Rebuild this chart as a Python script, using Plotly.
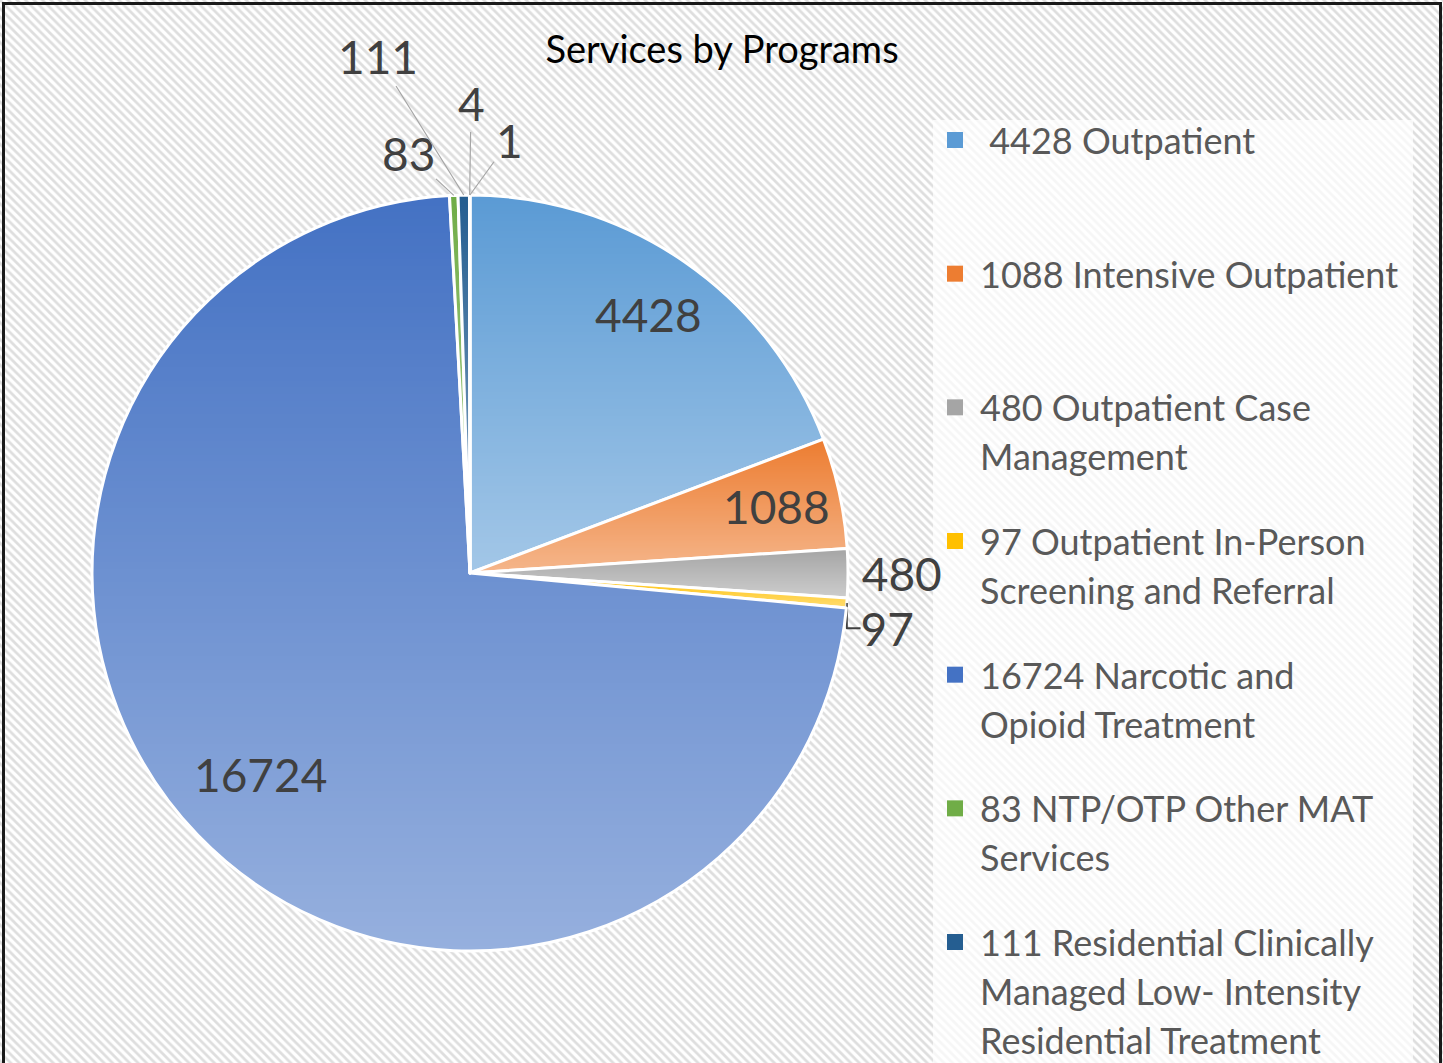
import base64
import struct
import zlib

import numpy as np
import plotly.graph_objects as go

W, H = 1443, 1063

# ---------------- data ----------------
programs = [
    "Outpatient",
    "Intensive Outpatient",
    "Outpatient Case Management",
    "Outpatient In-Person Screening and Referral",
    "Narcotic and Opioid Treatment",
    "NTP/OTP Other MAT Services",
    "Residential Clinically Managed Low- Intensity Residential Treatment",
    "Other program A",
    "Other program B",
]
services = [4428, 1088, 480, 97, 16724, 83, 111, 4, 1]
# legend wording with line breaks, as wrapped in the reference
legend_wrapped = [
    "\u00a04428 Outpatient",
    "1088 Intensive Outpatient",
    "480 Outpatient Case|Management",
    "97 Outpatient In-Person|Screening and Referral",
    "16724 Narcotic and|Opioid Treatment",
    "83 NTP/OTP Other MAT|Services",
    "111 Residential Clinically|Managed Low- Intensity|Residential Treatment",
]
slice_colors = ["#5B9BD5", "#ED7D31", "#A5A5A5", "#FFC000", "#4472C4",
                "#70AD47", "#255E91", "#9E480E", "#636363"]
# how each data label is shown: native outside label, inside label at a
# radius fraction, or a dragged-out callout label (pixel position)
native_outside = [2, 3]
inside_labels = {0: 0.83, 1: 0.83, 4: 0.77}
callout_labels = {5: (408, 153), 6: (378, 57), 7: (471, 103), 8: (509, 141)}

FONT = "Lato"
LABEL_COLOR = "#404040"

# ---------------- geometry (pixels) ----------------
CX, CY, R = 470, 573, 378
px = lambda x: x / W
py = lambda y: 1 - y / H


def png_rgba(arr):
    h, w, _ = arr.shape
    raw = b"".join(b"\x00" + arr[r].tobytes() for r in range(h))

    def chunk(tag, data):
        c = struct.pack(">I", len(data)) + tag + data
        return c + struct.pack(">I", zlib.crc32(tag + data) & 0xFFFFFFFF)

    return (b"\x89PNG\r\n\x1a\n"
            + chunk(b"IHDR", struct.pack(">IIBBBBB", w, h, 8, 6, 0, 0, 0))
            + chunk(b"IDAT", zlib.compress(raw, 9))
            + chunk(b"IEND", b""))


def gradient_overlay(values, size, tmax):
    """White tint that grows downward within each slice's bounding box."""
    n = size
    yy, xx = np.mgrid[0:n, 0:n].astype(float) + 0.5
    c = n / 2
    dx, dy = xx - c, yy - c
    rr = np.hypot(dx, dy)
    ang = np.degrees(np.arctan2(dx, -dy)) % 360
    edges = np.cumsum(values) / np.sum(values) * 360
    idx = np.clip(np.searchsorted(edges, ang, side="right"), 0, len(values) - 1)
    inside = rr <= c + 1
    t = np.zeros_like(rr)
    for i in range(len(values)):
        m = inside & (idx == i)
        if m.any():
            y0, y1 = yy[m].min(), yy[m].max()
            t[m] = tmax * (yy[m] - y0) / max(y1 - y0, 1.0)
    cov = np.clip(c - rr + 0.5, 0, 1)
    alpha = np.clip(t * cov, 0, 1)
    arr = np.zeros((n, n, 4), dtype=np.uint8)
    arr[..., :3] = 255
    arr[..., 3] = (alpha * 255).round().astype(np.uint8)
    return "data:image/png;base64," + base64.b64encode(png_rgba(arr)).decode()


# slice mid angles (clockwise from 12 o'clock), derived from the data
total = float(sum(services))
cum = np.concatenate([[0.0], np.cumsum(services)]) / total * 360.0
mid_angles = (cum[:-1] + cum[1:]) / 2.0


def polar_px(theta_deg, radius):
    th = np.radians(theta_deg)
    return CX + radius * np.sin(th), CY - radius * np.cos(th)


fig = go.Figure()

# hatched chart background
fig.add_trace(go.Scatter(
    x=[0, 1, 1, 0, 0], y=[0, 0, 1, 1, 0], mode="lines", fill="toself",
    line=dict(width=0), fillcolor="white",
    fillpattern=dict(shape="\\", size=6, solidity=0.45, fgcolor="#dedede",
                     bgcolor="white", fillmode="replace"),
    hoverinfo="skip", showlegend=False,
))
# legend panel (semi-opaque white over the hatch)
lx0, lx1, ly0 = px(933), px(1413), py(120)
fig.add_trace(go.Scatter(
    x=[lx0, lx1, lx1, lx0, lx0], y=[-0.05, -0.05, ly0, ly0, -0.05],
    mode="lines", fill="toself", line=dict(width=0),
    fillcolor="rgba(255,255,255,0.72)", hoverinfo="skip", showlegend=False,
))

text_positions = ["outside" if i in native_outside else "none"
                  for i in range(len(services))]
fig.add_trace(go.Pie(
    labels=programs, values=services, sort=False, direction="clockwise",
    rotation=0,
    domain=dict(x=[px(CX - R), px(CX + R)], y=[py(CY + R), py(CY - R)]),
    marker=dict(colors=slice_colors, line=dict(color="white", width=3)),
    texttemplate="%{value:d}", textposition=text_positions,
    outsidetextfont=dict(family=FONT, size=46, color=LABEL_COLOR),
    showlegend=False, automargin=False,
))

annotations = []
# inside data labels
for i, rf in inside_labels.items():
    x, y = polar_px(mid_angles[i], rf * R)
    annotations.append(dict(
        xref="paper", yref="paper", x=px(x), y=py(y), text=str(services[i]),
        showarrow=False, xanchor="center", yanchor="middle",
        font=dict(family=FONT, size=46, color=LABEL_COLOR)))
# callout labels for the tiny slices, with leader lines to the slice edge
for i, (lxp, lyp) in callout_labels.items():
    ex, ey = polar_px(mid_angles[i], R)
    annotations.append(dict(
        xref="paper", yref="paper", x=px(ex), y=py(ey), text=str(services[i]),
        showarrow=True, arrowhead=0, arrowwidth=1.2, arrowcolor="#a6a6a6",
        standoff=0, ax=lxp - ex, ay=lyp - ey, xanchor="center",
        yanchor="middle",
        font=dict(family=FONT, size=46, color=LABEL_COLOR)))

shapes = [
    # chart border
    dict(type="rect", xref="paper", yref="paper", x0=px(3.5), x1=px(1440.5),
         y0=-0.05, y1=py(3.5), fillcolor="rgba(0,0,0,0)",
         line=dict(color="#1a1a1a", width=3), layer="above"),
]

slot0, slot_step, line_step = 140, 133.67, 49
for i, entry in enumerate(legend_wrapped):
    yc = slot0 + i * slot_step
    shapes.append(dict(type="rect", xref="paper", yref="paper",
                       x0=px(947), x1=px(963), y0=py(yc + 8), y1=py(yc - 8),
                       fillcolor=slice_colors[i], line=dict(width=0),
                       layer="above"))
    for j, line in enumerate(entry.split("|")):
        annotations.append(dict(
            xref="paper", yref="paper", x=px(978), y=py(yc + j * line_step),
            xanchor="left", yanchor="middle", text=line, showarrow=False,
            font=dict(family=FONT, size=36, color="#595959")))

fig.update_layout(
    width=W, height=H,
    margin=dict(l=0, r=0, t=0, b=0, pad=0, autoexpand=False),
    paper_bgcolor="white", plot_bgcolor="white", showlegend=False,
    xaxis=dict(visible=False, range=[0, 1], fixedrange=True),
    yaxis=dict(visible=False, range=[0, 1], fixedrange=True),
    title=dict(text="Services by Programs", x=px(722), y=py(50),
               xanchor="center", yanchor="middle", automargin=False,
               font=dict(family=FONT, size=38, color="black")),
    shapes=shapes, annotations=annotations,
    images=[dict(source=gradient_overlay(services, 2 * R, 0.44),
                 xref="paper", yref="paper", x=px(CX - R), y=py(CY - R),
                 sizex=2 * R / W, sizey=2 * R / H, xanchor="left",
                 yanchor="top", sizing="stretch", layer="above")],
)

fig.write_html("out.html", config={"displayModeBar": False},
               post_script="document.body.style.margin='0px';")
